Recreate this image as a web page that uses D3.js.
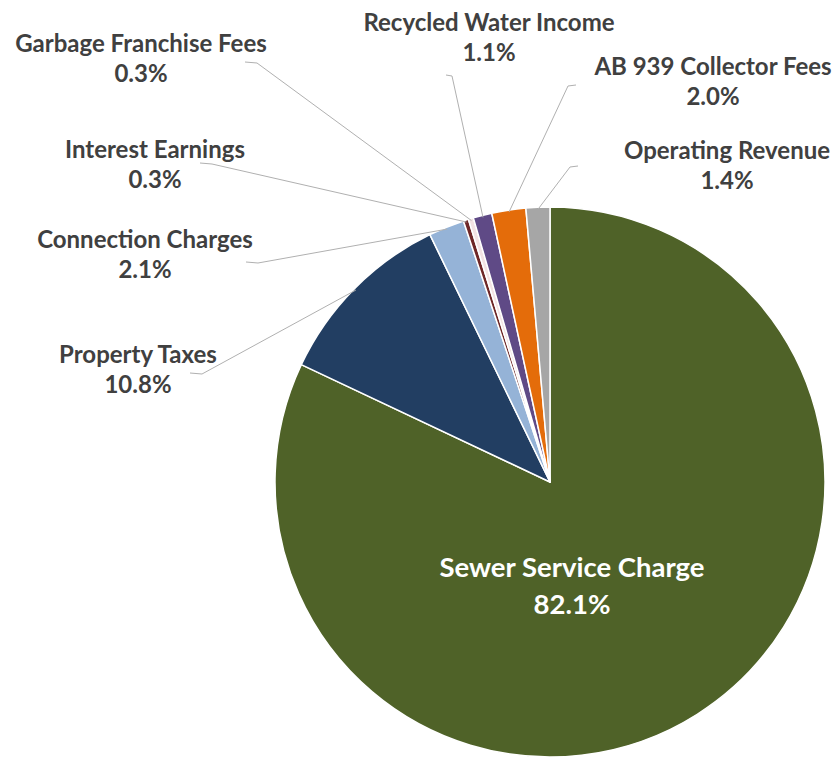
<!DOCTYPE html>
<html>
<head>
<meta charset="utf-8">
<script src="https://cdn.jsdelivr.net/npm/d3@7/dist/d3.min.js"></script>
<style>
  html, body { margin: 0; padding: 0; background: #ffffff; }
  svg { display: block; }
  text { font-family: Lato, "Open Sans", sans-serif; font-weight: 700; }
</style>
</head>
<body>
<svg id="chart" width="833" height="759"></svg>
<script>
// Revenue sources, in clockwise order from 12 o'clock
const categories = [
  "Sewer Service Charge",
  "Property Taxes",
  "Connection Charges",
  "Interest Earnings",
  "Garbage Franchise Fees",
  "Recycled Water Income",
  "AB 939 Collector Fees",
  "Operating Revenue"
];
const shares = [82.1, 10.8, 2.1, 0.3, 0.3, 1.1, 2.0, 1.4];
const colors = ["#4f6228", "#223e62", "#95b3d7", "#6e2727", "#f3e3e3", "#5f4a86", "#e46c0a", "#a6a6a6"];

// Where each outside label sits (centre x, first baseline y) and where its leader starts
const labelLayout = [
  null,
  { x: 138, y: 363, lx: 190, ly: 373, dx: 12 },
  { x: 145, y: 248, lx: 246, ly: 262, dx: 12 },
  { x: 155, y: 158, lx: 200, ly: 163, dx: 12 },
  { x: 141, y: 52,  lx: 245, ly: 62,  dx: 12 },
  { x: 489, y: 31,  lx: 446, ly: 75,  dx: 6 },
  { x: 713, y: 75,  lx: 576, ly: 85,  dx: -8 },
  { x: 727, y: 159, lx: 578, ly: 166, dx: -8 }
];

const svg = d3.select("#chart");
const cx = 550, cy = 482, radius = 275;

const pie = d3.pie().sort(null).value(d => d.value);
const data = categories.map((c, i) => ({ name: c, value: shares[i], color: colors[i], layout: labelLayout[i] }));
const arcs = pie(data);
const arc = d3.arc().innerRadius(0).outerRadius(radius);

const g = svg.append("g").attr("transform", `translate(${cx},${cy})`);

g.selectAll("path.slice")
  .data(arcs)
  .enter().append("path")
  .attr("class", "slice")
  .attr("d", arc)
  .attr("fill", d => d.data.color)
  .attr("stroke", "#ffffff")
  .attr("stroke-width", 1.5)
  .attr("stroke-linejoin", "round");

const fmt = v => v.toFixed(1) + "%";

// Leader lines: short horizontal tick at the label, then straight to the slice edge
const outside = arcs.filter(d => d.data.layout);
g.selectAll("polyline.leader")
  .data(outside)
  .enter().append("polyline")
  .attr("class", "leader")
  .attr("fill", "none")
  .attr("stroke", "#b0b0b0")
  .attr("stroke-width", 1)
  .attr("points", d => {
    const L = d.data.layout;
    const mid = (d.startAngle + d.endAngle) / 2;
    const ex = Math.sin(mid) * (radius - 2);
    const ey = -Math.cos(mid) * (radius - 2);
    const p0 = [L.lx - cx, L.ly - cy];
    const p1 = [L.lx + L.dx - cx, L.ly - cy + 1];
    return [p0, p1, [ex, ey]].map(p => p.join(",")).join(" ");
  });

// Outside labels
const labels = svg.selectAll("text.outlabel")
  .data(outside)
  .enter().append("text")
  .attr("class", "outlabel")
  .attr("text-anchor", "middle")
  .attr("fill", "#404040")
  .attr("font-size", 24);
labels.append("tspan")
  .attr("x", d => d.data.layout.x)
  .attr("y", d => d.data.layout.y)
  .text(d => d.data.name);
labels.append("tspan")
  .attr("x", d => d.data.layout.x)
  .attr("y", d => d.data.layout.y + 30)
  .text(d => fmt(d.data.value));

// Inside label for the dominant slice
const main = arcs[0];
const inside = svg.append("text")
  .attr("text-anchor", "middle")
  .attr("fill", "#ffffff")
  .attr("font-size", 27.5);
inside.append("tspan").attr("x", 572).attr("y", 577).text(main.data.name);
inside.append("tspan").attr("x", 572).attr("y", 614).text(fmt(main.data.value));
</script>
</body>
</html>
